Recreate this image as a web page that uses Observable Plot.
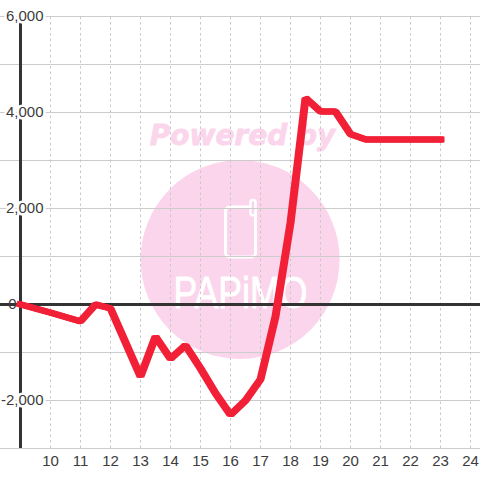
<!DOCTYPE html>
<html>
<head>
<meta charset="utf-8">
<style>html,body{margin:0;padding:0;background:#fff}svg{display:block}</style>
<script src="https://cdn.jsdelivr.net/npm/d3@7"></script>
<script src="https://cdn.jsdelivr.net/npm/@observablehq/plot@0.6"></script>
</head>
<body>
<div id="chart"></div>
<script>
const hours = [9, 10, 11, 11.5, 12, 13, 13.5, 14, 14.5, 15, 15.5, 16, 16.5, 17, 17.5, 18, 18.5, 19, 19.5, 20, 20.5, 21, 22, 23];
const values = [0, -170, -350, 0, -80, -1500, -670, -1130, -850, -1330, -1850, -2300, -2000, -1560, -250, 1700, 4300, 4020, 4020, 3550, 3440, 3440, 3440, 3440];
const xTicks = [10, 11, 12, 13, 14, 15, 16, 17, 18, 19, 20, 21, 22, 23, 24];
const yGrid = [-3000, -2000, -1000, 0, 1000, 2000, 3000, 4000, 5000, 6000];
const yLabels = [6000, 4000, 2000, -2000];
const zeroLabel = [0];
const series = hours.map((h, i) => ({h, v: values[i]}));
const fmt = d => d3.format(",")(d).replace("\u2212", "-");
const pink = "#fbd5ec";
const font = "'Liberation Sans', Arial, sans-serif";

const logoStretch = (index, scales, vals, dims, ctx, next) => {
  const g = next(index, scales, vals, dims, ctx);
  g.querySelectorAll("text").forEach(t => {
    t.setAttribute("textLength", 134);
    t.setAttribute("lengthAdjust", "spacingAndGlyphs");
  });
  return g;
};

const redLine = dx => Plot.line(series, {x: "h", y: "v", dx, stroke: "#f22036", strokeWidth: 6, strokeLinejoin: "miter", strokeLinecap: "square", curve: "linear"});

const plot = Plot.plot({
  width: 480,
  height: 480,
  margin: 0,
  style: {background: "#fff", fontFamily: font, overflow: "visible"},
  x: {domain: [9, 24.3333], range: [20, 480], axis: null},
  y: {domain: [-3000, 6000], range: [448, 16], axis: null},
  marks: [
    Plot.dot([{x: 16.32, y: 937}], {x: "x", y: "y", r: 99.5, fill: pink, stroke: "none"}),
    Plot.text(["Powered by"], {x: () => 16.4, y: () => 3520, text: d => d, fill: pink, stroke: pink, strokeWidth: 0.8, fontSize: 28, fontWeight: "bold", fontStyle: "italic", fontFamily: "'DejaVu Sans'"}),
    Plot.rect([{a: 15.85, b: 16.85, c: 980, d: 2020}], {x1: "a", x2: "b", y1: "c", y2: "d", fill: "none", stroke: "#fff", strokeWidth: 3, rx: 4}),
    Plot.rect([{a: 16.68, b: 16.85, c: 1850, d: 2165}], {x1: "a", x2: "b", y1: "c", y2: "d", fill: pink, stroke: "#fff", strokeWidth: 2.5, rx: 2.5}),
    Plot.text(["PAPiMO"], {x: () => 16.33, y: () => 230, text: d => d, fill: "#fff", stroke: "#fff", strokeWidth: 0.8, fontSize: 45, fontFamily: font, render: logoStretch}),
    Plot.ruleY(yGrid, {stroke: "#ccc", strokeWidth: 1, strokeOpacity: 1}),
    Plot.ruleX(xTicks, {y1: -3000, y2: 6000, stroke: "#c8c8c8", strokeWidth: 1, strokeOpacity: 1, strokeDasharray: "2.5,3"}),
    Plot.ruleY([0], {stroke: "#333", strokeWidth: 3, strokeOpacity: 1}),
    Plot.ruleX([9], {y1: -3000, y2: 6000, stroke: "#333", strokeWidth: 3, strokeOpacity: 1}),
    Plot.text(yLabels, {x: () => 9, y: d => d, dx: 23, text: d => fmt(d), textAnchor: "end", fill: "#3c3c3c", stroke: "#fff", strokeWidth: 5, fontSize: 15, fontFamily: font}),
    Plot.text(zeroLabel, {x: () => 9, y: d => d, dx: -4, text: d => fmt(d), textAnchor: "end", fill: "#3c3c3c", fontSize: 15, fontFamily: font}),
    Plot.text(xTicks, {x: d => d, y: () => -3000, dy: 13, text: d => String(d), fill: "#3c3c3c", fontSize: 15, fontFamily: font}),
    redLine(-1),
    redLine(0),
    redLine(1)
  ]
});
document.getElementById("chart").appendChild(plot);
</script>
</body>
</html>
